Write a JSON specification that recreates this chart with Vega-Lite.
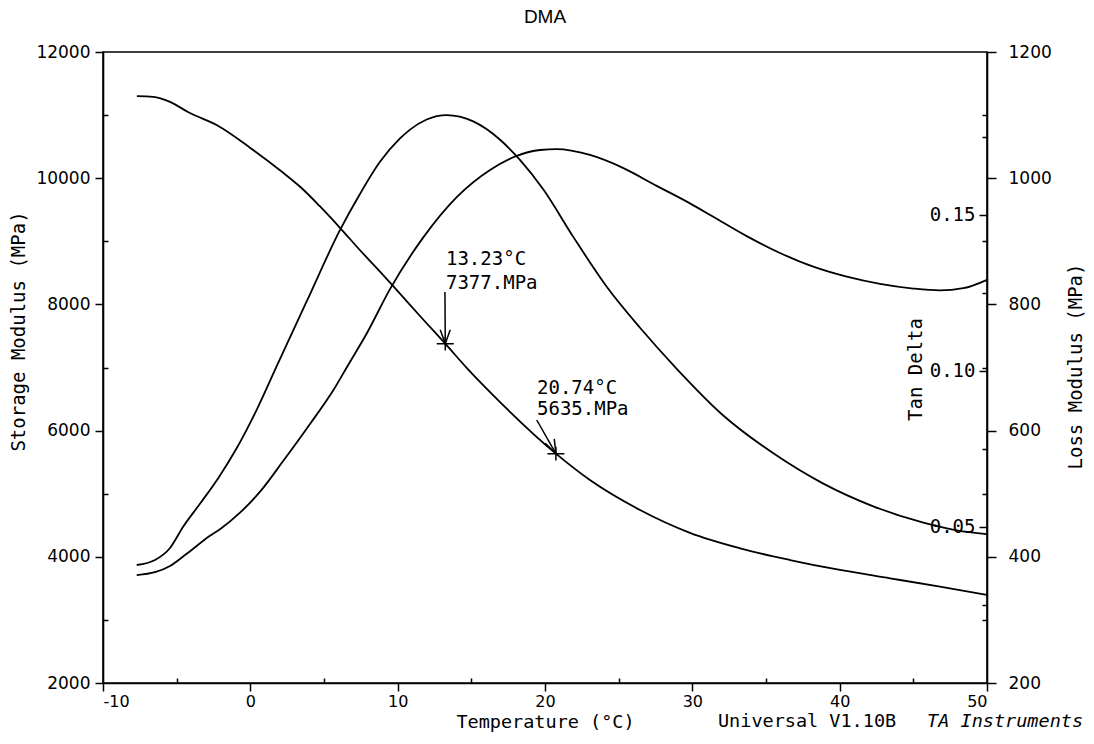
{
  "$schema": "https://vega.github.io/schema/vega-lite/v6.json",
  "width": 884,
  "height": 631,
  "autosize": {"type": "none"},
  "padding": {"left": 103, "top": 52, "right": 107, "bottom": 61},
  "background": "white",
  "title": {"text": "DMA", "font": "Liberation Sans", "fontSize": 19, "fontWeight": "normal", "color": "black", "offset": 16, "anchor": "middle", "frame": "group"},
  "config": {
    "view": {"stroke": "black", "strokeWidth": 1.6},
    "axis": {"domainColor": "black", "domainWidth": 1.6, "tickColor": "black", "tickWidth": 1.5, "labelColor": "black", "titleColor": "black", "grid": false, "labelFont": "DejaVu Sans", "labelFontSize": 17, "titleFont": "DejaVu Sans Mono", "titleFontSize": 19, "titleFontWeight": "normal"}
  },
  "datasets": {
    "storage": [
      {"T": -7.7, "S": 11300}, {"T": -6.6, "S": 11290}, {"T": -5.45, "S": 11210}, {"T": -4.2, "S": 11045},
      {"T": -2.2, "S": 10830}, {"T": 0, "S": 10480}, {"T": 2.1, "S": 10110}, {"T": 3.4, "S": 9860},
      {"T": 4.7, "S": 9560}, {"T": 6.1, "S": 9210}, {"T": 7.4, "S": 8870}, {"T": 8.8, "S": 8520},
      {"T": 9.7, "S": 8290}, {"T": 11.5, "S": 7820}, {"T": 13.23, "S": 7377}, {"T": 14.7, "S": 6990},
      {"T": 17.0, "S": 6440}, {"T": 20.74, "S": 5635}, {"T": 23.05, "S": 5217}, {"T": 26.45, "S": 4742},
      {"T": 29.84, "S": 4380}, {"T": 33.24, "S": 4135}, {"T": 36.63, "S": 3949}, {"T": 40.02, "S": 3791},
      {"T": 43.42, "S": 3659}, {"T": 46.81, "S": 3526}, {"T": 49.98, "S": 3395}
    ],
    "loss": [
      {"T": -7.71, "L": 387}, {"T": -6.47, "L": 395}, {"T": -5.45, "L": 414}, {"T": -4.55, "L": 448},
      {"T": -3.42, "L": 484}, {"T": -2.17, "L": 525}, {"T": -0.93, "L": 572}, {"T": 0.43, "L": 633},
      {"T": 1.79, "L": 702}, {"T": 3.83, "L": 805}, {"T": 6.09, "L": 918}, {"T": 7.44, "L": 975},
      {"T": 8.8, "L": 1026}, {"T": 10.16, "L": 1063}, {"T": 10.84, "L": 1077}, {"T": 11.97, "L": 1093},
      {"T": 13.33, "L": 1100}, {"T": 15.13, "L": 1090}, {"T": 16.95, "L": 1061}, {"T": 18.3, "L": 1029},
      {"T": 19.89, "L": 982}, {"T": 21.92, "L": 907}, {"T": 24.19, "L": 828}, {"T": 26.45, "L": 763},
      {"T": 28.94, "L": 698}, {"T": 32.1, "L": 624}, {"T": 35.5, "L": 564}, {"T": 38.89, "L": 516},
      {"T": 42.28, "L": 480}, {"T": 45.68, "L": 454}, {"T": 47.95, "L": 442}, {"T": 49.98, "L": 436}
    ],
    "tan": [
      {"T": -7.71, "D": 0.0346}, {"T": -6.47, "D": 0.0355}, {"T": -5.45, "D": 0.0375}, {"T": -4.32, "D": 0.0414},
      {"T": -2.74, "D": 0.0472}, {"T": -2.06, "D": 0.0493}, {"T": -0.7, "D": 0.0546}, {"T": 0.66, "D": 0.0613},
      {"T": 2.24, "D": 0.0712}, {"T": 4.05, "D": 0.0830}, {"T": 5.63, "D": 0.0938}, {"T": 6.65, "D": 0.1020},
      {"T": 7.9, "D": 0.1120}, {"T": 9.48, "D": 0.1262}, {"T": 11.74, "D": 0.1428}, {"T": 14.01, "D": 0.1557},
      {"T": 16.27, "D": 0.1644}, {"T": 18.08, "D": 0.1689}, {"T": 19.66, "D": 0.1708}, {"T": 20.8, "D": 0.1711},
      {"T": 23.05, "D": 0.1692}, {"T": 25.32, "D": 0.165}, {"T": 27.58, "D": 0.1593}, {"T": 29.84, "D": 0.1537},
      {"T": 31.42, "D": 0.1494}, {"T": 33.69, "D": 0.1432}, {"T": 35.95, "D": 0.1378}, {"T": 38.21, "D": 0.1334},
      {"T": 40.48, "D": 0.1302}, {"T": 42.74, "D": 0.1279}, {"T": 44.99, "D": 0.1264}, {"T": 46.81, "D": 0.1258},
      {"T": 48.39, "D": 0.1265}, {"T": 50, "D": 0.1292}
    ],
    "arrows": [
      {"T": 13.21, "S": 8197, "T2": 13.23, "S2": 7377},
      {"T": 19.44, "S": 6168, "T2": 20.74, "S2": 5635}
    ],
    "markers": [
      {"T": 13.23, "S": 7377},
      {"T": 20.74, "S": 5635}
    ],
    "labels": [
      {"T": 13.28, "S": 8712, "text": "13.23°C"},
      {"T": 13.28, "S": 8347, "text": "7377.MPa"},
      {"T": 19.46, "S": 6683, "text": "20.74°C"},
      {"T": 19.46, "S": 6342, "text": "5635.MPa"}
    ],
    "footer1": [{"T": 31.74, "S": 1400, "text": "Universal V1.10B"}],
    "footer2": [{"T": 56.52, "S": 1400, "text": "TA Instruments"}]
  },
  "layer": [
    {
      "data": {"name": "storage"},
      "mark": {"type": "line", "color": "black", "strokeWidth": 1.8, "interpolate": "monotone"},
      "encoding": {
        "x": {"field": "T", "type": "quantitative", "scale": {"domain": [-10, 50], "nice": false, "zero": false},
          "axis": {"orient": "bottom", "values": [-10, 0, 10, 20, 30, 40, 50], "labelExpr": "datum.value < 0 ? '-' + abs(datum.value) : '' + datum.value", "labelFontSize": 16, "tickSize": 8, "labelPadding": 2, "title": "Temperature (°C)", "titleFontSize": 18.5, "titleX": 442, "titleY": 38, "titleBaseline": "middle", "titleAlign": "center"}},
        "y": {"field": "S", "type": "quantitative", "scale": {"domain": [2000, 12000], "nice": false, "zero": false},
          "axis": {"orient": "left", "values": [2000, 4000, 6000, 8000, 10000, 12000], "format": "d", "tickSize": 8, "labelPadding": 5, "title": "Storage Modulus (MPa)", "titleX": -85, "titleY": 279, "titleAngle": -90, "titleBaseline": "middle", "titleAlign": "center"}}
      }
    },
    {
      "data": {"name": "storage"},
      "mark": {"type": "line", "opacity": 0},
      "encoding": {
        "x": {"field": "T", "type": "quantitative", "scale": {"domain": [-10, 50], "nice": false, "zero": false},
          "axis": {"orient": "bottom", "values": [-5, 5, 15, 25, 35, 45], "tickSize": -5, "labels": false, "domain": false, "title": null}},
        "y": {"field": "S", "type": "quantitative", "scale": {"domain": [2000, 12000], "nice": false, "zero": false},
          "axis": {"orient": "left", "values": [3000, 5000, 7000, 9000, 11000], "tickSize": -5, "labels": false, "domain": false, "title": null}}
      }
    },
    {
      "data": {"name": "loss"},
      "mark": {"type": "line", "color": "black", "strokeWidth": 1.8, "interpolate": "monotone"},
      "encoding": {
        "x": {"field": "T", "type": "quantitative", "scale": {"domain": [-10, 50], "nice": false, "zero": false}, "axis": null},
        "y": {"field": "L", "type": "quantitative", "scale": {"domain": [200, 1200], "nice": false, "zero": false},
          "axis": {"orient": "right", "values": [200, 400, 600, 800, 1000, 1200], "format": "d", "tickSize": 9, "labelPadding": 12, "title": "Loss Modulus (MPa)", "titleX": 88, "titleY": 314, "titleAngle": -90, "titleBaseline": "middle", "titleAlign": "center"}}
      }
    },
    {
      "data": {"name": "loss"},
      "mark": {"type": "line", "opacity": 0},
      "encoding": {
        "x": {"field": "T", "type": "quantitative", "scale": {"domain": [-10, 50], "nice": false, "zero": false}, "axis": null},
        "y": {"field": "L", "type": "quantitative", "scale": {"domain": [200, 1200], "nice": false, "zero": false},
          "axis": {"orient": "right", "values": [300, 500, 700, 900, 1100], "tickSize": -5, "labels": false, "domain": false, "title": null}}
      }
    },
    {
      "data": {"name": "tan"},
      "mark": {"type": "line", "color": "black", "strokeWidth": 1.8, "interpolate": "monotone"},
      "encoding": {
        "x": {"field": "T", "type": "quantitative", "scale": {"domain": [-10, 50], "nice": false, "zero": false}, "axis": null},
        "y": {"field": "D", "type": "quantitative", "scale": {"domain": [0, 0.2022], "nice": false, "zero": false},
          "axis": {"orient": "right", "values": [0.05, 0.1, 0.15], "format": ".2f", "tickSize": -8, "labelPadding": -4, "labelAlign": "right", "labelBaseline": "middle", "labelFont": "DejaVu Sans Mono", "labelFontSize": 19, "domain": false, "title": "Tan Delta", "titleX": -72, "titleY": 317, "titleAngle": -90, "titleBaseline": "middle", "titleAlign": "center"}}
      }
    },
    {
      "data": {"name": "tan"},
      "mark": {"type": "line", "opacity": 0},
      "encoding": {
        "x": {"field": "T", "type": "quantitative", "scale": {"domain": [-10, 50], "nice": false, "zero": false}, "axis": null},
        "y": {"field": "D", "type": "quantitative", "scale": {"domain": [0, 0.2022], "nice": false, "zero": false},
          "axis": {"orient": "right", "values": [0.025, 0.075, 0.125, 0.175], "tickSize": -5, "labels": false, "domain": false, "title": null}}
      }
    },
    {
      "data": {"name": "arrows"},
      "mark": {"type": "rule", "color": "black", "strokeWidth": 1.5},
      "encoding": {
        "x": {"field": "T", "type": "quantitative", "scale": {"domain": [-10, 50], "nice": false, "zero": false}, "axis": null},
        "y": {"field": "S", "type": "quantitative", "scale": {"domain": [2000, 12000], "nice": false, "zero": false}, "axis": null},
        "x2": {"field": "T2"},
        "y2": {"field": "S2"}
      }
    },
    {
      "data": {"name": "markers"},
      "mark": {"type": "point", "shape": "M-1,0L1,0M0,-0.8L0,0.8", "filled": false, "stroke": "black", "strokeWidth": 1.5, "size": 289, "opacity": 1},
      "encoding": {
        "x": {"field": "T", "type": "quantitative", "scale": {"domain": [-10, 50], "nice": false, "zero": false}, "axis": null},
        "y": {"field": "S", "type": "quantitative", "scale": {"domain": [2000, 12000], "nice": false, "zero": false}, "axis": null}
      }
    },
    {
      "data": {"name": "markers"},
      "transform": [{"filter": "datum.T < 15"}],
      "mark": {"type": "point", "shape": "M-1,-2.8L0,0L1,-2.8", "filled": false, "stroke": "black", "strokeWidth": 1.5, "size": 100, "angle": 0, "opacity": 1},
      "encoding": {
        "x": {"field": "T", "type": "quantitative", "scale": {"domain": [-10, 50], "nice": false, "zero": false}, "axis": null},
        "y": {"field": "S", "type": "quantitative", "scale": {"domain": [2000, 12000], "nice": false, "zero": false}, "axis": null}
      }
    },
    {
      "data": {"name": "markers"},
      "transform": [{"filter": "datum.T > 15"}],
      "mark": {"type": "point", "shape": "M-1,-2.8L0,0L1,-2.8", "filled": false, "stroke": "black", "strokeWidth": 1.5, "size": 100, "angle": 334, "opacity": 1},
      "encoding": {
        "x": {"field": "T", "type": "quantitative", "scale": {"domain": [-10, 50], "nice": false, "zero": false}, "axis": null},
        "y": {"field": "S", "type": "quantitative", "scale": {"domain": [2000, 12000], "nice": false, "zero": false}, "axis": null}
      }
    },
    {
      "data": {"name": "labels"},
      "mark": {"type": "text", "align": "left", "baseline": "middle", "font": "DejaVu Sans Mono", "fontSize": 19, "color": "black"},
      "encoding": {
        "x": {"field": "T", "type": "quantitative", "scale": {"domain": [-10, 50], "nice": false, "zero": false}, "axis": null},
        "y": {"field": "S", "type": "quantitative", "scale": {"domain": [2000, 12000], "nice": false, "zero": false}, "axis": null},
        "text": {"field": "text"}
      }
    },
    {
      "data": {"name": "footer1"},
      "mark": {"type": "text", "align": "left", "baseline": "middle", "font": "DejaVu Sans Mono", "fontSize": 18.5, "color": "black"},
      "encoding": {
        "x": {"field": "T", "type": "quantitative", "scale": {"domain": [-10, 50], "nice": false, "zero": false}, "axis": null},
        "y": {"field": "S", "type": "quantitative", "scale": {"domain": [2000, 12000], "nice": false, "zero": false}, "axis": null},
        "text": {"field": "text"}
      }
    },
    {
      "data": {"name": "footer2"},
      "mark": {"type": "text", "align": "right", "baseline": "middle", "font": "DejaVu Sans Mono", "fontSize": 18.5, "fontStyle": "italic", "color": "black"},
      "encoding": {
        "x": {"field": "T", "type": "quantitative", "scale": {"domain": [-10, 50], "nice": false, "zero": false}, "axis": null},
        "y": {"field": "S", "type": "quantitative", "scale": {"domain": [2000, 12000], "nice": false, "zero": false}, "axis": null},
        "text": {"field": "text"}
      }
    }
  ],
  "resolve": {"scale": {"y": "independent"}, "axis": {"x": "independent", "y": "independent"}}
}
